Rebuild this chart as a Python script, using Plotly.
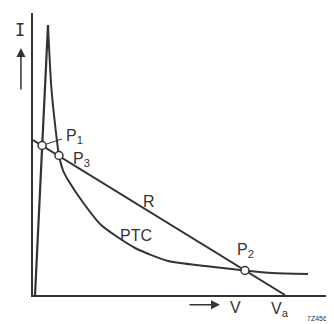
import plotly.graph_objects as go

# Load line R (voltage V, current I) in arbitrary units
r_v = [0.0, 10.0]
r_i = [15.5, 0.0]

# PTC thermistor characteristic
ptc_v = [0.08, 0.595, 0.72, 0.90, 1.03, 1.20, 1.39, 2.0, 2.70, 4.05, 5.36, 6.83, 8.41, 9.5, 10.91]
ptc_i = [0.0, 27.0, 21.0, 16.5, 14.0, 12.4, 11.5, 9.2, 7.0, 4.7, 3.4, 2.9, 2.45, 2.2, 2.1]

# Operating points
pt_names = ["P1", "P3", "P2"]
pt_v = [0.36, 1.03, 8.41]
pt_i = [14.95, 13.95, 2.45]

ink = "#333333"
fig = go.Figure()

# PTC: rising part straight, falling part smooth
fig.add_trace(go.Scatter(x=ptc_v[:2], y=ptc_i[:2], mode="lines",
                         line=dict(color=ink, width=2.2), hoverinfo="skip"))
fig.add_trace(go.Scatter(x=ptc_v[1:], y=ptc_i[1:], mode="lines",
                         line=dict(color=ink, width=2, shape="spline", smoothing=0.6),
                         hoverinfo="skip"))
fig.add_trace(go.Scatter(x=r_v, y=r_i, mode="lines",
                         line=dict(color=ink, width=2), hoverinfo="skip"))
# leader line from P1 to its label
fig.add_trace(go.Scatter(x=[pt_v[0], 1.15], y=[pt_i[0], 15.6], mode="lines",
                         line=dict(color=ink, width=1), hoverinfo="skip"))
fig.add_trace(go.Scatter(x=pt_v, y=pt_i, mode="markers",
                         marker=dict(size=8, color="white", line=dict(color=ink, width=1.5)),
                         hoverinfo="skip"))

font = dict(family="Liberation Sans, Arial, sans-serif", size=16, color=ink)
ann = [
    dict(x=1.22, y=15.9, text="P<sub>1</sub>", xanchor="left", yanchor="middle"),
    dict(x=1.5, y=13.6, text="P<sub>3</sub>", xanchor="left", yanchor="middle"),
    dict(x=8.45, y=3.3, text="P<sub>2</sub>", xanchor="center", yanchor="bottom"),
    dict(x=4.6, y=9.4, text="R", xanchor="center", yanchor="middle"),
    dict(x=4.1, y=6.0, text="PTC", xanchor="center", yanchor="middle"),
]
for a in ann:
    fig.add_annotation(xref="x", yref="y", showarrow=False, font=font, **a)

fig.add_annotation(xref="x", yref="paper", x=8.05, y=-0.045, text="V", showarrow=False,
                   font=font, xanchor="center", yanchor="middle")
fig.add_annotation(xref="x", yref="paper", x=9.8, y=-0.05, text="V<sub>a</sub>", showarrow=False,
                   font=font, xanchor="center", yanchor="middle")
fig.add_annotation(xref="paper", yref="paper", x=-0.042, y=0.94, text="I", showarrow=False,
                   font=dict(family="DejaVu Sans Mono", size=17, color=ink),
                   xanchor="center", yanchor="middle")
fig.add_annotation(xref="paper", yref="paper", x=0.985, y=-0.085, text="7Z45678", showarrow=False,
                   font=dict(family="Liberation Sans, Arial, sans-serif", size=7, color=ink),
                   xanchor="right", yanchor="middle")
# arrows along the axes
fig.add_annotation(xref="paper", yref="paper", x=-0.039, y=0.876, ax=0, ay=43,
                   text="", showarrow=True, arrowhead=2, arrowsize=1.2, arrowwidth=1.5, arrowcolor=ink)
fig.add_annotation(xref="x", yref="paper", x=7.42, y=-0.035, ax=-32, ay=0,
                   text="", showarrow=True, arrowhead=2, arrowsize=1.2, arrowwidth=1.5, arrowcolor=ink)

fig.update_layout(
    width=334, height=324,
    margin=dict(l=25, r=0, t=5, b=37),
    paper_bgcolor="white", plot_bgcolor="white",
    showlegend=False,
    xaxis=dict(range=[0, 12.26], showgrid=False, zeroline=False, showticklabels=False,
               ticks="", showline=True, linecolor=ink, linewidth=2),
    yaxis=dict(range=[0, 28.2], showgrid=False, zeroline=False, showticklabels=False,
               ticks="", showline=True, linecolor=ink, linewidth=2),
)

fig.write_html("out.html")
